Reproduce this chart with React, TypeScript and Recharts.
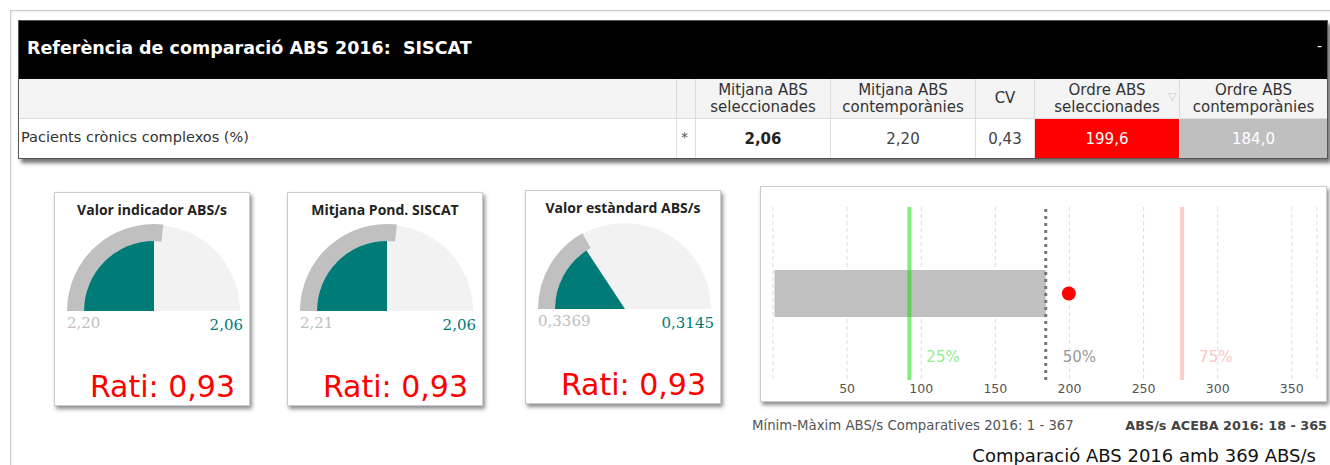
import React from 'react'
import {
  PieChart,
  Pie,
  Cell,
  ComposedChart,
  Bar,
  XAxis,
  YAxis,
  CartesianGrid,
  ReferenceLine,
  ReferenceDot,
} from 'recharts'

// table
const panelTitle = 'Referència de comparació ABS 2016:  SISCAT'
const indicatorName = 'Pacients crònics complexos (%)'
const tableHeaders = [
  ['Mitjana ABS', 'seleccionades'],
  ['Mitjana ABS', 'contemporànies'],
  ['CV'],
  ['Ordre ABS', 'seleccionades'],
  ['Ordre ABS', 'contemporànies'],
]
const tableValues = ['2,06', '2,20', '0,43', '199,6', '184,0']

// gauges
const gaugeTitles = ['Valor indicador ABS/s', 'Mitjana Pond. SISCAT', 'Valor estàndard ABS/s']
const gaugeValues = [2.06, 2.06, 0.3145]
const gaugeRefs = [2.2, 2.21, 0.3369]
const gaugeMax = [4.12, 4.12, 1]
const gaugeDecimals = [2, 2, 4]
const gaugeRatis = [0.93, 0.93, 0.93]

// bullet
const bulletCategories = ['ABS']
const rangeMin = [1]
const rangeMax = [184]
const p25 = 92
const p50 = 184
const p75 = 276
const absValue = 199.6
const axisMax = 367
const axisTicks = [50, 100, 150, 200, 250, 300, 350]

const TEAL = '#007b78'
const SANS = '"DejaVu Sans", Verdana, sans-serif'

const fmt = (v: number, d: number) => v.toFixed(d).replace('.', ',')

const colEdges = [0, 657, 676, 811, 956, 1015, 1160, 1308]

function Table() {
  const cellColors = ['#fff', '#fff', '#fff', '#ff0000', '#bfbfbf']
  const textColors = ['#222', '#444', '#444', '#fff', '#fff']
  return (
    <div
      style={{
        position: 'absolute',
        left: 18,
        top: 20,
        width: 1308,
        height: 137,
        border: '1px solid #555',
        boxShadow: '3px 4px 4px rgba(0,0,0,0.55)',
        background: '#fff',
        fontFamily: SANS,
      }}
    >
      <div style={{ position: 'absolute', left: 0, top: 0, width: 1308, height: 58, background: '#000' }}>
        <div
          style={{
            position: 'absolute',
            left: 8,
            top: 17,
            color: '#fff',
            fontWeight: 'bold',
            fontSize: 17.5,
            whiteSpace: 'pre',
          }}
        >
          {panelTitle}
        </div>
        <div style={{ position: 'absolute', left: 1298, top: 17, color: '#fff', fontSize: 14 }}>-</div>
      </div>
      <div
        style={{
          position: 'absolute',
          left: 0,
          top: 58,
          width: 1308,
          height: 39,
          background: '#f4f4f4',
          borderBottom: '1px solid #ddd',
        }}
      />
      {colEdges.slice(1, -1).map((x) => (
        <div key={x} style={{ position: 'absolute', left: x, top: 58, width: 1, height: 79, background: '#ddd' }} />
      ))}
      {tableHeaders.map((lines, i) => (
        <div
          key={i}
          style={{
            position: 'absolute',
            left: colEdges[i + 2] + 1,
            top: 58,
            width: colEdges[i + 3] - colEdges[i + 2] - 1,
            height: 39,
            display: 'flex',
            flexDirection: 'column',
            justifyContent: 'center',
            alignItems: 'center',
            fontSize: 15,
            lineHeight: '17px',
            color: '#333',
          }}
        >
          {lines.map((l) => (
            <div key={l}>{l}</div>
          ))}
        </div>
      ))}
      <div style={{ position: 'absolute', left: 1149, top: 69, fontSize: 11, color: '#ccc' }}>▽</div>
      <div style={{ position: 'absolute', left: 2, top: 108, fontSize: 14.5, color: '#333' }}>{indicatorName}</div>
      <div style={{ position: 'absolute', left: 662, top: 108, fontSize: 14, color: '#555' }}>*</div>
      {tableValues.map((v, i) => (
        <div
          key={i}
          style={{
            position: 'absolute',
            left: colEdges[i + 2] + 1,
            top: 98,
            width: colEdges[i + 3] - colEdges[i + 2] - 1,
            height: 39,
            background: cellColors[i],
            color: textColors[i],
            fontWeight: i === 0 ? 'bold' : 'normal',
            fontSize: 15,
            display: 'flex',
            alignItems: 'center',
            justifyContent: 'center',
          }}
        >
          {v}
        </div>
      ))}
    </div>
  )
}

function Gauge({ idx, left, top }: { idx: number; left: number; top: number }) {
  const value = gaugeValues[idx]
  const ref = gaugeRefs[idx]
  const max = gaugeMax[idx]
  const cx = 99
  const cy = 118
  return (
    <div
      style={{
        position: 'absolute',
        left,
        top,
        width: 194,
        height: 212,
        border: '1px solid #ccc',
        background: '#fff',
        boxShadow: '2px 3px 4px rgba(0,0,0,0.45)',
      }}
    >
      <div
        style={{
          position: 'absolute',
          left: 0,
          top: 7,
          width: 194,
          textAlign: 'center',
          fontFamily: '"Open Sans", sans-serif',
          fontWeight: 700,
          fontSize: 14,
          color: '#222',
        }}
      >
        {gaugeTitles[idx]}
      </div>
      <div style={{ position: 'absolute', left: 0, top: 0 }}>
        <PieChart width={194} height={130} margin={{ top: 0, right: 0, bottom: 0, left: 0 }}>
          <Pie
            data={[{ v: 1 }]}
            dataKey="v"
            cx={cx}
            cy={cy}
            startAngle={180}
            endAngle={0}
            innerRadius={0}
            outerRadius={86}
            fill="#f2f2f2"
            stroke="none"
            isAnimationActive={false}
          />
          <Pie
            data={[{ v: ref }, { v: max - ref }]}
            dataKey="v"
            cx={cx}
            cy={cy}
            startAngle={180}
            endAngle={0}
            innerRadius={70}
            outerRadius={87}
            stroke="none"
            isAnimationActive={false}
          >
            <Cell fill="#c0c0c0" />
            <Cell fill="transparent" />
          </Pie>
          <Pie
            data={[{ v: value }, { v: max - value }]}
            dataKey="v"
            cx={cx}
            cy={cy}
            startAngle={180}
            endAngle={0}
            innerRadius={0}
            outerRadius={70}
            stroke="none"
            isAnimationActive={false}
          >
            <Cell fill={TEAL} />
            <Cell fill="transparent" />
          </Pie>
        </PieChart>
      </div>
      <div
        style={{
          position: 'absolute',
          left: 12,
          top: 121,
          fontFamily: '"DejaVu Serif", serif',
          fontSize: 15,
          color: '#c0c0c0',
        }}
      >
        {fmt(ref, gaugeDecimals[idx])}
      </div>
      <div
        style={{
          position: 'absolute',
          right: 6,
          top: 123,
          fontFamily: '"DejaVu Serif", serif',
          fontSize: 15,
          color: TEAL,
        }}
      >
        {fmt(value, gaugeDecimals[idx])}
      </div>
      <div
        style={{
          position: 'absolute',
          right: 14,
          top: 176,
          fontFamily: SANS,
          fontSize: 30,
          color: '#ff0000',
          whiteSpace: 'nowrap',
        }}
      >
        Rati: {fmt(gaugeRatis[idx], 2)}
      </div>
    </div>
  )
}

const pctLabel = (text: string, color: string) => (props: any) => {
  const vb = props.viewBox || {}
  const bottom = Math.max(vb.y, vb.y + vb.height)
  return (
    <text x={vb.x + 17} y={bottom - 18} fill={color} fontSize={15} fontFamily={SANS}>
      {text}
    </text>
  )
}

function Bullet() {
  const data = bulletCategories.map((name, i) => ({ name, range: [rangeMin[i], rangeMax[i]] }))
  return (
    <div
      style={{
        position: 'absolute',
        left: 760,
        top: 186,
        width: 565,
        height: 214,
        border: '1px solid #ccc',
        background: '#fff',
        boxShadow: '2px 3px 4px rgba(0,0,0,0.45)',
      }}
    >
      <ComposedChart
        width={565}
        height={214}
        layout="vertical"
        data={data}
        margin={{ top: 20, right: 9, left: 12, bottom: 0 }}
      >
        <CartesianGrid horizontal={false} stroke="#ddd" strokeDasharray="4 3" />
        <XAxis
          type="number"
          domain={[0, axisMax]}
          ticks={axisTicks}
          axisLine={false}
          tickLine={false}
          tickSize={0}
          tickMargin={4}
          height={21}
          tick={{ fontSize: 12.5, fill: '#555', fontFamily: SANS }}
        />
        <YAxis type="category" dataKey="name" hide />
        <Bar dataKey="range" fill="#c0c0c0" barSize={47} isAnimationActive={false} />
        <ReferenceLine x={p25} stroke="#00dd00" strokeOpacity={0.5} strokeWidth={4} label={pctLabel('25%', '#90ee90')} />
        <ReferenceLine x={p50} stroke="#777" strokeWidth={3} strokeDasharray="3 4" label={pctLabel('50%', '#999')} />
        <ReferenceLine x={p75} stroke="#ff9999" strokeOpacity={0.5} strokeWidth={4} label={pctLabel('75%', '#ffc4c4')} />
        <ReferenceDot x={absValue} y={bulletCategories[0]} r={7} fill="#ff0000" stroke="none" />
      </ComposedChart>
    </div>
  )
}

export default function App() {
  return (
    <div
      style={{
        position: 'absolute',
        left: 0,
        top: 0,
        width: 1330,
        height: 465,
        overflow: 'hidden',
        background: '#fff',
        fontFamily: SANS,
      }}
    >
      <div
        style={{
          position: 'absolute',
          left: 10,
          top: 10,
          width: 1330,
          height: 470,
          borderLeft: '1px solid #ccc',
          borderTop: '1px solid #ccc',
          boxShadow: 'inset 1px 1px 2px rgba(0,0,0,0.08)',
        }}
      />
      <Table />
      <Gauge idx={0} left={54} top={192} />
      <Gauge idx={1} left={287} top={192} />
      <Gauge idx={2} left={525} top={190} />
      <Bullet />
      <div style={{ position: 'absolute', left: 752, top: 418, fontSize: 13.3, color: '#555', whiteSpace: 'nowrap' }}>
        Mínim-Màxim ABS/s Comparatives 2016: 1 - 367
      </div>
      <div
        style={{
          position: 'absolute',
          right: 3,
          top: 418,
          fontSize: 12.8,
          fontWeight: 'bold',
          color: '#444',
          whiteSpace: 'nowrap',
        }}
      >
        ABS/s ACEBA 2016: 18 - 365
      </div>
      <div style={{ position: 'absolute', right: 14, top: 445, fontSize: 18, color: '#111', whiteSpace: 'nowrap' }}>
        Comparació ABS 2016 amb 369 ABS/s
      </div>
    </div>
  )
}
